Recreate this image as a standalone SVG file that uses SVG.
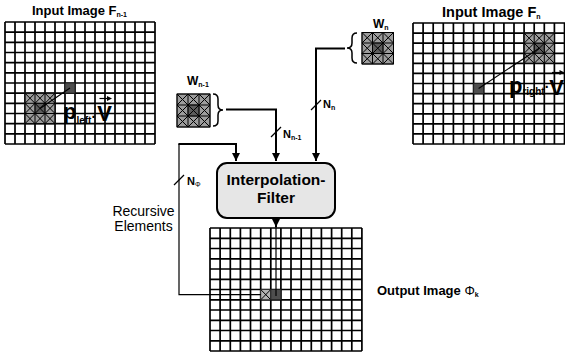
<svg xmlns="http://www.w3.org/2000/svg" width="565" height="353" viewBox="0 0 565 353">
  <style>
    .grid { fill: none; stroke: #000; stroke-width: 1.7; }
    .win { fill: #9c9c9c; stroke: #333; stroke-width: 1; }
    .winc { fill: #5c5c5c; stroke: #333; stroke-width: 1; }
    .dark { fill: #4e4e4e; stroke: #222; stroke-width: 1; }
    .x { stroke: #000; stroke-width: 1; fill: none; }
    .conn { fill: none; stroke: #000; stroke-width: 2; }
    .thin { fill: none; stroke: #000; stroke-width: 1.2; }
    .brace { fill: none; stroke: #000; stroke-width: 1.5; }
    text { font-family: "Liberation Sans", Arial, sans-serif; fill: #000; }
    .b { font-weight: bold; }
    .sub { font-size: 7px; font-weight: bold; }
  </style>
  <defs>
    <marker id="arrow" viewBox="0 0 8 8" refX="8" refY="4" markerWidth="8" markerHeight="8" markerUnits="userSpaceOnUse" orient="auto">
      <path d="M0 0 L8 4 L0 8 z" fill="#000"/>
    </marker>
  </defs>
  <rect width="565" height="353" fill="#fff"/>

  <!-- previous input frame -->
  <g id="input-prev">
    <text class="b" x="32" y="15" font-size="13">Input Image F<tspan class="sub" dy="2">n-1</tspan></text>
    <path class="grid" d="M5 22V144M15 22V144M25 22V144M35 22V144M45 22V144M55 22V144M65 22V144M75 22V144M85 22V144M95 22V144M105 22V144M115 22V144M125 22V144M135 22V144M145 22V144M155 22V144
      M5 22H155M5 32.2H155M5 42.3H155M5 52.5H155M5 62.7H155M5 72.8H155M5 83H155M5 93.2H155M5 103.3H155M5 113.5H155M5 123.7H155M5 133.8H155M5 144H155"/>
    <rect class="win" x="25" y="93.2" width="30" height="30.5"/>
    <rect class="winc" x="35" y="103.3" width="10" height="10.2"/>
    <path class="x" d="M25 93.2V123.7M35 93.2V123.7M45 93.2V123.7M55 93.2V123.7M25 93.2H55M25 103.3H55M25 113.5H55M25 123.7H55
      M25 93.2L35 103.3M35 93.2L25 103.3M35 93.2L45 103.3M45 93.2L35 103.3M45 93.2L55 103.3M55 93.2L45 103.3
      M25 103.3L35 113.5M35 103.3L25 113.5M35 103.3L45 113.5M45 103.3L35 113.5M45 103.3L55 113.5M55 103.3L45 113.5
      M25 113.5L35 123.7M35 113.5L25 123.7M35 113.5L45 123.7M45 113.5L35 123.7M45 113.5L55 123.7M55 113.5L45 123.7"/>
    <rect class="dark" x="65" y="83" width="10" height="10.2"/>
    <path class="thin" d="M40 108.4L70 88"/>
    <text class="b" x="63" y="119"><tspan font-size="22">p</tspan><tspan font-size="10" dy="5">left</tspan><tspan font-size="14" dy="-2">·</tspan><tspan font-size="22" dx="1" dy="-1">V</tspan></text>
    <path d="M99.5 98.5H109" stroke="#000" stroke-width="1.2"/>
    <path d="M112 98.5L107 96L107 101z" fill="#000"/>
  </g>

  <!-- current input frame -->
  <g id="input-cur">
    <text class="b" x="442" y="16.5" font-size="14.5">Input Image F<tspan class="sub" dy="2">n</tspan></text>
    <path class="grid" d="M413 23V144M423.1 23V144M433.2 23V144M443.3 23V144M453.4 23V144M463.5 23V144M473.6 23V144M483.7 23V144M493.8 23V144M503.9 23V144M514 23V144M524.1 23V144M534.2 23V144M544.3 23V144M554.4 23V144M564.5 23V144
      M413 23H565M413 33.1H565M413 43.2H565M413 53.3H565M413 63.3H565M413 73.4H565M413 83.5H565M413 93.6H565M413 103.7H565M413 113.8H565M413 123.8H565M413 133.9H565M413 144H565"/>
    <rect class="win" x="524.1" y="33.1" width="30.3" height="30.2"/>
    <rect class="winc" x="534.2" y="43.2" width="10.1" height="10.1"/>
    <path class="x" d="M524.1 33.1V63.3M534.2 33.1V63.3M544.3 33.1V63.3M554.4 33.1V63.3M524.1 33.1H554.4M524.1 43.2H554.4M524.1 53.3H554.4M524.1 63.3H554.4
      M524.1 33.1L534.2 43.2M534.2 33.1L524.1 43.2M534.2 33.1L544.3 43.2M544.3 33.1L534.2 43.2M544.3 33.1L554.4 43.2M554.4 33.1L544.3 43.2
      M524.1 43.2L534.2 53.3M534.2 43.2L524.1 53.3M534.2 43.2L544.3 53.3M544.3 43.2L534.2 53.3M544.3 43.2L554.4 53.3M554.4 43.2L544.3 53.3
      M524.1 53.3L534.2 63.3M534.2 53.3L524.1 63.3M534.2 53.3L544.3 63.3M544.3 53.3L534.2 63.3M544.3 53.3L554.4 63.3M554.4 53.3L544.3 63.3"/>
    <rect class="dark" x="473.6" y="83.5" width="10.1" height="10.1"/>
    <path class="thin" d="M478.6 88.5L539.3 48.2"/>
    <text class="b" x="509" y="92.5"><tspan font-size="22">p</tspan><tspan font-size="10" dy="2.5">right</tspan><tspan font-size="14" dy="-3">·</tspan><tspan font-size="22" dy="3">V</tspan></text>
    <path d="M552 72.5H561" stroke="#000" stroke-width="1.2"/>
    <path d="M564.5 72.5L559.5 70L559.5 75z" fill="#000"/>
  </g>

  <!-- window W(n-1) -->
  <g id="window-prev">
    <text class="b" x="187" y="85" font-size="12">W<tspan class="sub" dy="2">n-1</tspan></text>
    <rect class="win" x="177" y="94" width="33" height="33"/>
    <rect class="winc" x="188" y="105" width="11" height="11"/>
    <path class="x" d="M177 94V127M188 94V127M199 94V127M210 94V127M177 94H210M177 105H210M177 116H210M177 127H210
      M177 94L188 105M188 94L177 105M188 94L199 105M199 94L188 105M199 94L210 105M210 94L199 105
      M177 105L188 116M188 105L177 116M188 105L199 116M199 105L188 116M199 105L210 116M210 105L199 116
      M177 116L188 127M188 116L177 127M188 116L199 127M199 116L188 127M199 116L210 127M210 116L199 127"/>
    <path class="brace" d="M213 94Q218 94 218 99V105Q218 110 223 110Q218 110 218 115V121Q218 126 213 126"/>
  </g>

  <!-- window W(n) -->
  <g id="window-cur">
    <text class="b" x="373" y="28" font-size="12">W<tspan class="sub" dy="2">n</tspan></text>
    <rect class="win" x="362" y="32.5" width="31.5" height="31.5"/>
    <rect class="winc" x="372.5" y="43" width="10.5" height="10.5"/>
    <path class="x" d="M362 32.5V64M372.5 32.5V64M383 32.5V64M393.5 32.5V64M362 32.5H393.5M362 43H393.5M362 53.5H393.5M362 64H393.5
      M362 32.5L372.5 43M372.5 32.5L362 43M372.5 32.5L383 43M383 32.5L372.5 43M383 32.5L393.5 43M393.5 32.5L383 43
      M362 43L372.5 53.5M372.5 43L362 53.5M372.5 43L383 53.5M383 43L372.5 53.5M383 43L393.5 53.5M393.5 43L383 53.5
      M362 53.5L372.5 64M372.5 53.5L362 64M372.5 53.5L383 64M383 53.5L372.5 64M383 53.5L393.5 64M393.5 53.5L383 64"/>
    <path class="brace" d="M357 33Q352 33 352 38V43Q352 48 347 48Q352 48 352 53V58Q352 63 357 63"/>
  </g>

  <!-- interpolation filter -->
  <g id="filter">
    <rect x="217" y="163" width="118" height="55" rx="10" ry="10" fill="#e6e6e6" stroke="#000" stroke-width="2"/>
    <text class="b" x="276" y="185" font-size="15.5" text-anchor="middle">Interpolation-</text>
    <text class="b" x="276" y="203" font-size="15.5" text-anchor="middle">Filter</text>
  </g>

  <!-- output frame -->
  <g id="output">
    <path class="grid" d="M210 228V351M220.1 228V351M230.3 228V351M240.4 228V351M250.5 228V351M260.7 228V351M270.8 228V351M280.9 228V351M291 228V351M301.2 228V351M311.3 228V351M321.4 228V351M331.6 228V351M341.7 228V351M351.8 228V351M361.9 228V351
      M210 228H361.9M210 238.3H361.9M210 248.5H361.9M210 258.8H361.9M210 269H361.9M210 279.3H361.9M210 289.5H361.9M210 299.8H361.9M210 310H361.9M210 320.3H361.9M210 330.5H361.9M210 340.8H361.9M210 351H361.9"/>
    <rect x="260.7" y="289.5" width="10.1" height="10.3" fill="#b4b4b4" stroke="#333" stroke-width="1"/>
    <path class="x" d="M260.7 289.5L270.8 299.8M270.8 289.5L260.7 299.8"/>
    <rect class="dark" x="270.8" y="289.5" width="10.1" height="10.3"/>
    <text class="b" x="377" y="295" font-size="13">Output Image <tspan font-weight="normal">Φ</tspan><tspan class="sub" dy="2">k</tspan></text>
  </g>

  <!-- feedback label -->
  <g id="recursive-label">
    <text x="143.5" y="216" font-size="14" text-anchor="middle">Recursive</text>
    <text x="143.5" y="231" font-size="14" text-anchor="middle">Elements</text>
  </g>

  <!-- connectors -->
  <g id="connectors">
    <path class="conn" d="M226 109.5H276V161" marker-end="url(#arrow)"/>
    <path class="conn" d="M345 48.5H316V161" marker-end="url(#arrow)"/>
    <path class="thin" d="M261 294.6H179V144"/>
    <path class="conn" d="M178.4 144H236V161" marker-end="url(#arrow)"/>
    <path class="conn" d="M276 218V227" marker-end="url(#arrow)"/>
    <path class="thin" d="M276 226V296"/>
    <!-- bus-width slashes -->
    <path class="thin" d="M174 185L184 175"/>
    <path class="thin" d="M271 137L281 127"/>
    <path class="thin" d="M311 110L321 100"/>
    <text class="b" x="187" y="185" font-size="11">N<tspan font-size="7" font-weight="normal" dy="2">Φ</tspan></text>
    <text class="b" x="283" y="138" font-size="11">N<tspan class="sub" dy="2">n-1</tspan></text>
    <text class="b" x="323" y="108" font-size="11">N<tspan class="sub" dy="2">n</tspan></text>
  </g>
</svg>
